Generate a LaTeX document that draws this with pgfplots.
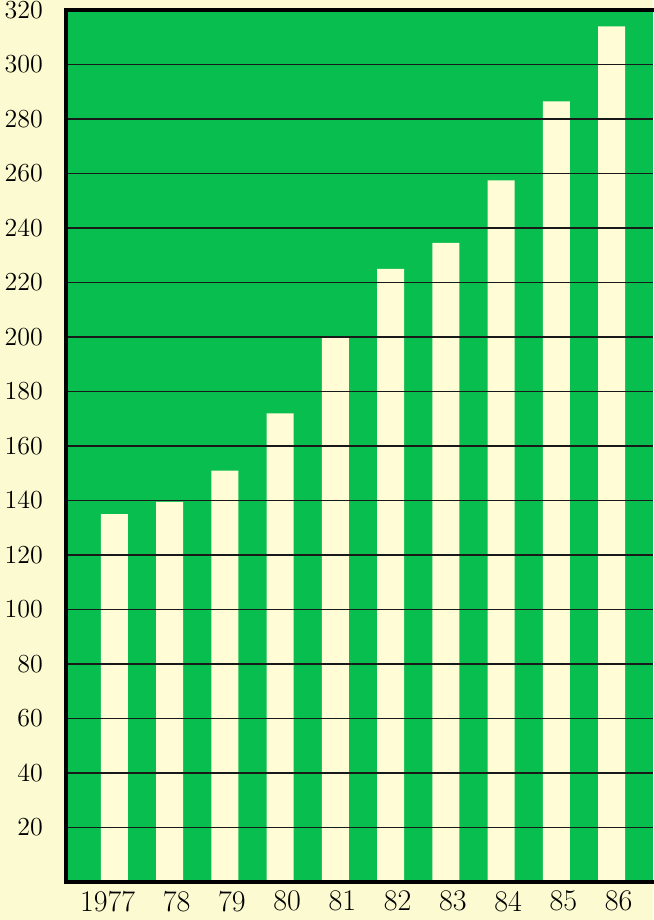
\documentclass[border=0pt]{standalone}
\usepackage{fontspec}
\usepackage{pgfplots}
\pgfplotsset{compat=1.18}
\usetikzlibrary{backgrounds}

\definecolor{chartgreen}{RGB}{8,190,78}
\definecolor{barcream}{RGB}{255,252,214}
\definecolor{papercream}{RGB}{252,250,208}

\begin{document}
\begin{tikzpicture}
\begin{axis}[
  scale only axis,
  width=293.5pt, height=436pt,
  xmin=-0.878, xmax=9.75,
  ymin=0, ymax=320,
  axis line style={draw=none},
  axis background/.style={fill=chartgreen},
  ytick={20,40,...,320},
  xtick={0,...,9},
  xticklabels={\llap{19}77,78,79,80,81,82,83,84,85,86},
  major tick length=0pt,
  tick style={draw=none},
  /pgf/number format/assume math mode=true,
  yticklabel style={font=\fontsize{13}{15}\selectfont, xshift=-8pt},
  xticklabel style={font=\fontsize{15}{17}\selectfont, xshift=3.5pt, yshift=-1pt},
]
\addplot[ybar, bar width=13.5pt, fill=barcream, draw=none] coordinates {
  (0,135) (1,139.5) (2,151) (3,172) (4,200)
  (5,225) (6,234.5) (7,257.5) (8,286.5) (9,314)
};
% grid lines over the bars
\pgfplotsinvokeforeach{20,40,...,300}{
  \draw[line width=0.9pt, black!90] (rel axis cs:0,#1/320) -- (rel axis cs:1,#1/320);
}
\coordinate (sw) at (rel axis cs:0,0);
\coordinate (ne) at (rel axis cs:1,1);
\coordinate (nw) at (rel axis cs:0,1);
\coordinate (se) at (rel axis cs:1,0);
\end{axis}
% open frame: top, left and bottom only
\draw[line width=2pt, black, line cap=rect] (ne) -- (nw) -- (sw) -- (se);
\pgfresetboundingbox
\begin{scope}[on background layer]
  \fill[papercream] ([shift={(-33pt,-19pt)}]sw) rectangle ([shift={(0pt,5pt)}]ne);
\end{scope}
\useasboundingbox ([shift={(-33pt,-19pt)}]sw) rectangle ([shift={(0pt,5pt)}]ne);
\end{tikzpicture}
\end{document}
